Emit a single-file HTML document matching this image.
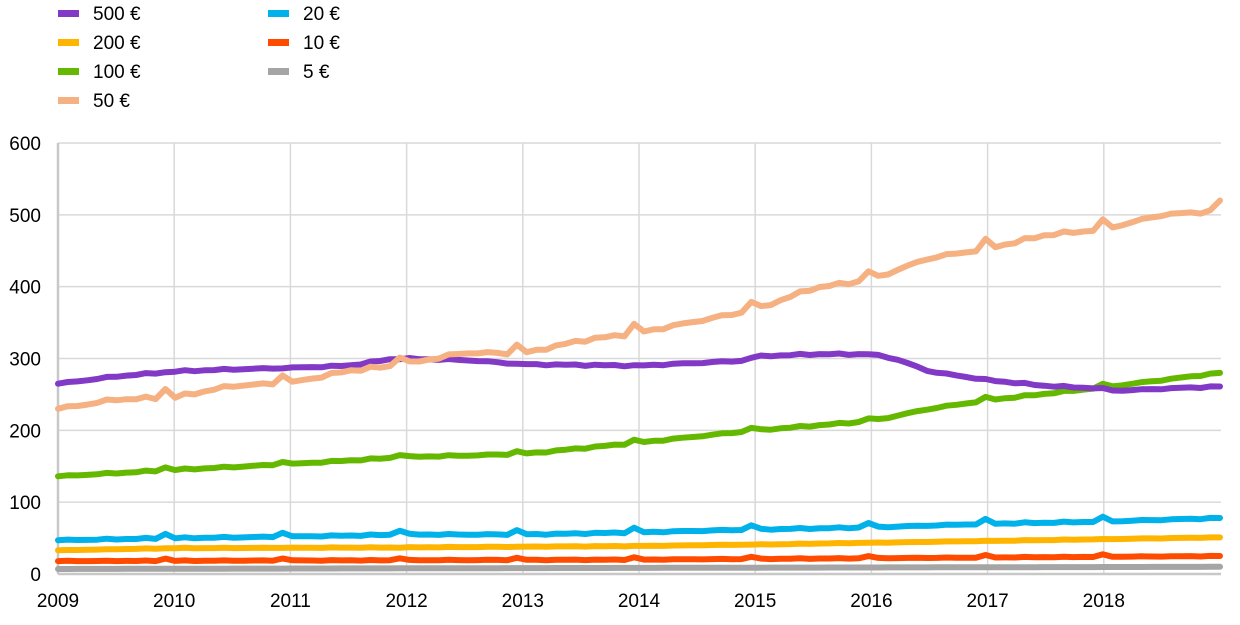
<!DOCTYPE html>
<html><head><meta charset="utf-8"><style>
body{margin:0;background:#fff;width:1240px;height:620px;overflow:hidden;font-family:"Liberation Sans",Arial,sans-serif}
svg text{font-family:"Liberation Sans",Arial,sans-serif;font-size:19px;fill:#000}
</style></head><body>
<svg id="s" width="1240" height="620" xmlns="http://www.w3.org/2000/svg">
<g id="grid"></g>
<g id="lines" fill="none" stroke-width="6" stroke-linejoin="round" stroke-linecap="round"></g>
<g id="leg"></g>
</svg>
<script>
const X0=58,XS=116.2,Y0=574,YS=0.7183;
const ns="http://www.w3.org/2000/svg";
function el(t,a,p,txt){const e=document.createElementNS(ns,t);for(const k in a)e.setAttribute(k,a[k]);if(txt!=null)e.textContent=txt;p.appendChild(e);return e;}
const g=document.getElementById('grid');
for(let v=0;v<=600;v+=100){const y=Y0-v*YS;el('line',{x1:X0,x2:1221,y1:y,y2:y,stroke:'#d9d9d9','stroke-width':1.5},g);
el('text',{x:41,y:y+7,'text-anchor':'end'},g,v);}
for(let k=0;k<10;k++){const x=X0+k*XS;el('line',{x1:x,x2:x,y1:143,y2:Y0,stroke:'#d9d9d9','stroke-width':1.5},g);
el('text',{x:x,y:607,'text-anchor':'middle'},g,2009+k);}
el('line',{x1:X0,x2:X0,y1:143,y2:Y0,stroke:'#c8c8c8','stroke-width':2.5},g);
el('line',{x1:X0,x2:1221,y1:Y0,y2:Y0,stroke:'#c8c8c8','stroke-width':2.5},g);
function interp(k,t){for(let i=0;i<k.length-1;i++){if(t>=k[i][0]&&t<=k[i+1][0]){const f=(t-k[i][0])/(k[i+1][0]-k[i][0]);return k[i][1]+f*(k[i+1][1]-k[i][1]);}}return k[k.length-1][1];}
const S=[
['#a5a5a5',[[0,7],[10,10]],0,0],
['#ff4b00',[[0,18],[5,20],[10,25]],3,0.5],
['#ffb400',[[0,33],[1,36],[3,37],[5,39],[6,41],[8,46],[10,51]],0,0.4],
['#00b1ea',[[0,47],[1,50],[2,52],[3,55],[4,55],[5,58],[6,62],[7,65],[8,70],[9,73],[10,78]],6,1],
['#65b800',[[0,136],[1,145],[2,153],[3,163],[4,167],[5,183],[6,200],[7,213],[7.5,230],[8,242],[9,260],[10,280]],4,1.2],
['#8139c6',[[0,265],[0.5,275],[1,282],[1.5,285],[2,287],[2.5,290],[2.9,300],[3.5,298],[4,292],[5,290],[5.9,297],[6,303],[6.5,306],[7,306],[7.2,300],[7.5,282],[8,270],[8.5,262],[9,258],[9.1,255],[9.5,258],[10,261]],0,1.2],
['#f6b183',[[0,230],[0.5,243],[1,246],[1.5,262],[2,266],[2.5,283],[2.9,290],[3,293],[3.5,308],[4,307],[4.5,325],[5,336],[5.5,352],[6,368],[6.5,398],[7,410],[7.5,440],[8,453],[8.5,472],[9,480],[9.5,500],[9.92,505],[10,520]],12,2.5]
];
const L=document.getElementById('lines');
S.forEach(([c,k,sp,nz])=>{let pts=[];for(let m=0;m<=119;m++){const t=m/119*10;let v=interp(k,t)+nz*Math.sin(m*2.3)*Math.cos(m*0.7);if(m%12==11&&m<119)v+=sp;pts.push((X0+t*XS).toFixed(1)+','+(Y0-v*YS).toFixed(1));}
el('polyline',{points:pts.join(' '),stroke:c},L);});
const lg=document.getElementById('leg');
const items=[['#8139c6','500 €',0,0],['#ffb400','200 €',0,1],['#65b800','100 €',0,2],['#f6b183','50 €',0,3],['#00b1ea','20 €',1,0],['#ff4b00','10 €',1,1],['#a5a5a5','5 €',1,2]];
items.forEach(([c,t,col,row])=>{const x=col?268:58,y=13+row*29;el('rect',{x:x,y:y-3,width:21,height:7,fill:c},lg);el('text',{x:x+35,y:y+7},lg,t);});
</script>
</body></html>
